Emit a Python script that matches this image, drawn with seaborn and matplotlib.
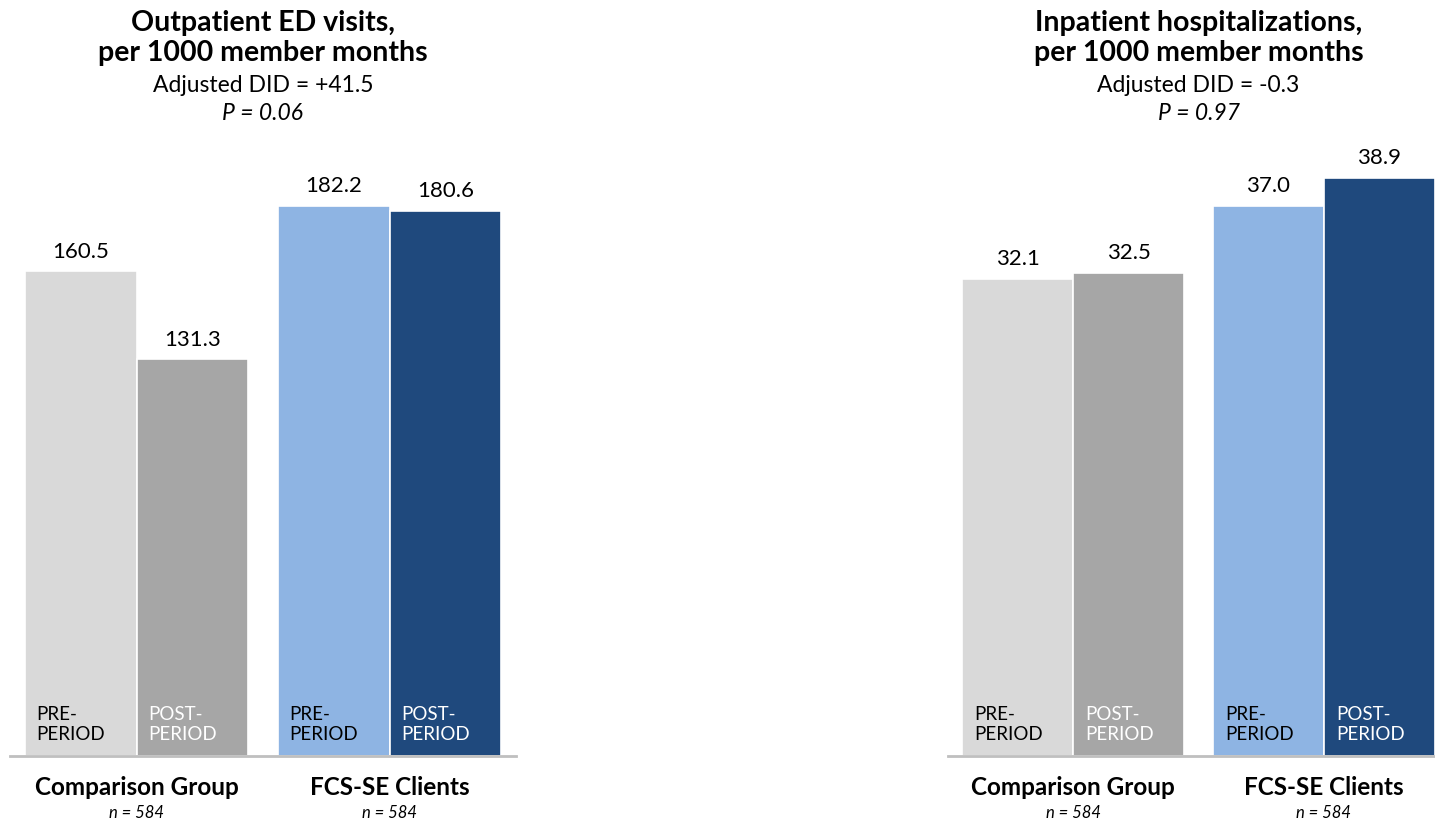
import matplotlib
matplotlib.use("Agg")
import matplotlib.pyplot as plt
import pandas as pd
import seaborn as sns

groups = ["Comparison Group", "FCS-SE Clients"]
periods = ["PRE-\nPERIOD", "POST-\nPERIOD"]
group_n = ["n = 584", "n = 584"]

ed_values = [160.5, 131.3, 182.2, 180.6]
ip_values = [32.1, 32.5, 37.0, 38.9]

ed_title = "Outpatient ED visits,\nper 1000 member months"
ed_did = "Adjusted DID = +41.5"
ed_p = "P = 0.06"
ip_title = "Inpatient hospitalizations,\nper 1000 member months"
ip_did = "Adjusted DID = -0.3"
ip_p = "P = 0.97"

bar_colors = {
    ("Comparison Group", "PRE-\nPERIOD"): "#D9D9D9",
    ("Comparison Group", "POST-\nPERIOD"): "#A6A6A6",
    ("FCS-SE Clients", "PRE-\nPERIOD"): "#8EB4E3",
    ("FCS-SE Clients", "POST-\nPERIOD"): "#1F497D",
}
text_colors = {
    ("Comparison Group", "PRE-\nPERIOD"): "black",
    ("Comparison Group", "POST-\nPERIOD"): "white",
    ("FCS-SE Clients", "PRE-\nPERIOD"): "black",
    ("FCS-SE Clients", "POST-\nPERIOD"): "white",
}

sns.set_theme(style="white")
plt.rcParams["font.family"] = ["Lato", "DejaVu Sans"]
plt.rcParams["text.color"] = "black"
plt.rcParams["xtick.color"] = "black"

W, H = 1435, 825
PX = 0.72  # points per pixel at dpi 100
fig = plt.figure(figsize=(W / 100, H / 100), dpi=100)


def make_frame(values):
    rows = []
    i = 0
    for g in groups:
        for p in periods:
            rows.append({"group": g, "period": p, "value": values[i]})
            i += 1
    return pd.DataFrame(rows)


def draw_panel(rect, values, ymax, title, did, pval):
    ax = fig.add_axes(rect)
    frame = make_frame(values)
    sns.barplot(data=frame, x="group", y="value", hue="period",
                order=groups, hue_order=periods, width=0.885,
                errorbar=None, legend=False, ax=ax,
                edgecolor="white", linewidth=1.2, palette=["#D9D9D9", "#A6A6A6"])
    ax.set_xlim(-0.5, 1.5)
    ax.set_ylim(0, ymax)
    for container, p in zip(ax.containers, periods):
        for bar, g in zip(container, groups):
            bar.set_facecolor(bar_colors[(g, p)])
            ax.annotate(p, xy=(bar.get_x(), 0), xytext=(12 * PX, 13 * PX),
                        textcoords="offset points", ha="left", va="bottom",
                        fontsize=13.5, color=text_colors[(g, p)],
                        linespacing=1.2)
        ax.bar_label(container, fmt="%.1f", padding=7, fontsize=16,
                     color="black")
    for side in ["top", "right", "left"]:
        ax.spines[side].set_visible(False)
    ax.spines["bottom"].set_color("#BFBFBF")
    ax.spines["bottom"].set_linewidth(2)
    ax.set_yticks([])
    ax.set_xlabel("")
    ax.set_ylabel("")
    ax.set_xticks(range(len(groups)))
    ax.set_xticklabels(groups, fontsize=17.5, fontweight="bold", color="black")
    ax.tick_params(axis="x", length=0, pad=20 * PX)
    for i, n in enumerate(group_n):
        ax.annotate(n, xy=(i, 0), xytext=(0, -57 * PX), textcoords="offset points",
                    ha="center", va="center", fontsize=12, style="italic",
                    color="black")
    ax.annotate(title, xy=(0.5, 1), xycoords="axes fraction",
                xytext=(0, 140 * PX), textcoords="offset points",
                ha="center", va="top", fontsize=20.5, fontweight="bold",
                linespacing=1.2, color="black", annotation_clip=False)
    ax.annotate(did, xy=(0.5, 1), xycoords="axes fraction",
                xytext=(0, 65 * PX), textcoords="offset points",
                ha="center", va="center", fontsize=16.5, color="black",
                annotation_clip=False)
    ax.annotate(pval, xy=(0.5, 1), xycoords="axes fraction",
                xytext=(0, 37 * PX), textcoords="offset points",
                ha="center", va="center", fontsize=16.5, style="italic",
                color="black", annotation_clip=False)
    return ax


base = 756
top = 150
height_px = base - top
bottom_f = (H - base) / H
height_f = height_px / H

left_rect = [10 / W, bottom_f, 506 / W, height_f]
right_rect = [948 / W, bottom_f, 501 / W, height_f]

draw_panel(left_rect, ed_values, height_px / 3.02, ed_title, ed_did, ed_p)
draw_panel(right_rect, ip_values, height_px / 14.86, ip_title, ip_did, ip_p)

fig.savefig("out.png", dpi=100)
